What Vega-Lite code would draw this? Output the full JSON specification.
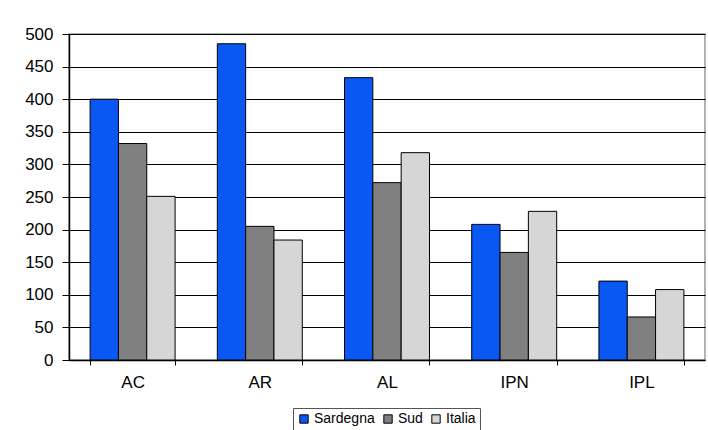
{
  "$schema": "https://vega.github.io/schema/vega-lite/v6.json",
  "width": 636,
  "height": 326,
  "autosize": {"type": "none"},
  "padding": {"left": 69, "top": 34, "right": 3, "bottom": 70},
  "background": "white",
  "data": {
    "values": [
      {"cat": "AC", "serie": "Sardegna", "v": 400},
      {"cat": "AC", "serie": "Sud", "v": 332},
      {"cat": "AC", "serie": "Italia", "v": 251},
      {"cat": "AR", "serie": "Sardegna", "v": 485},
      {"cat": "AR", "serie": "Sud", "v": 205},
      {"cat": "AR", "serie": "Italia", "v": 184},
      {"cat": "AL", "serie": "Sardegna", "v": 433},
      {"cat": "AL", "serie": "Sud", "v": 272},
      {"cat": "AL", "serie": "Italia", "v": 318},
      {"cat": "IPN", "serie": "Sardegna", "v": 208},
      {"cat": "IPN", "serie": "Sud", "v": 165},
      {"cat": "IPN", "serie": "Italia", "v": 228},
      {"cat": "IPL", "serie": "Sardegna", "v": 121},
      {"cat": "IPL", "serie": "Sud", "v": 66},
      {"cat": "IPL", "serie": "Italia", "v": 108}
    ]
  },
  "mark": {"type": "bar", "stroke": "black", "strokeWidth": 1},
  "encoding": {
    "x": {
      "field": "cat",
      "type": "nominal",
      "sort": ["AC", "AR", "AL", "IPN", "IPL"],
      "scale": {"paddingInner": 0.332, "paddingOuter": 0.166},
      "axis": {
        "title": null,
        "labelAngle": 0,
        "tickBand": "extent",
        "tickSize": 5,
        "tickColor": "black",
        "domainColor": "black",
        "domainWidth": 1.5,
        "labelFont": "Liberation Sans",
        "labelFontSize": 17,
        "labelColor": "black",
        "labelPadding": 9,
        "grid": false
      }
    },
    "xOffset": {
      "field": "serie",
      "type": "nominal",
      "sort": ["Sardegna", "Sud", "Italia"],
      "scale": {"paddingInner": 0, "paddingOuter": 0}
    },
    "y": {
      "field": "v",
      "type": "quantitative",
      "scale": {"domain": [0, 500], "nice": false},
      "axis": {
        "title": null,
        "values": [0, 50, 100, 150, 200, 250, 300, 350, 400, 450, 500],
        "tickSize": 7,
        "tickColor": "black",
        "domainColor": "black",
        "domainWidth": 1.5,
        "gridColor": "black",
        "gridWidth": 1.2,
        "gridOpacity": 1,
        "labelFont": "Liberation Sans",
        "labelFontSize": 17,
        "labelColor": "black",
        "labelPadding": 9
      }
    },
    "color": {
      "field": "serie",
      "type": "nominal",
      "sort": ["Sardegna", "Sud", "Italia"],
      "scale": {"domain": ["Sardegna", "Sud", "Italia"], "range": ["#0a58f4", "#808080", "#d6d6d6"]},
      "legend": {
        "title": null,
        "orient": "none",
        "legendX": 224,
        "legendY": 374,
        "direction": "horizontal",
        "symbolType": "square",
        "symbolSize": 70,
        "symbolStrokeColor": "black",
        "symbolStrokeWidth": 1,
        "symbolOpacity": 1,
        "labelFont": "Liberation Sans",
        "labelFontSize": 14,
        "labelColor": "black",
        "labelOffset": 3,
        "columnPadding": 6,
        "strokeColor": "#555",
        "padding": 4,
        "fillColor": "white"
      }
    }
  },
  "config": {
    "view": {"stroke": "#999", "strokeWidth": 1.5}
  }
}
